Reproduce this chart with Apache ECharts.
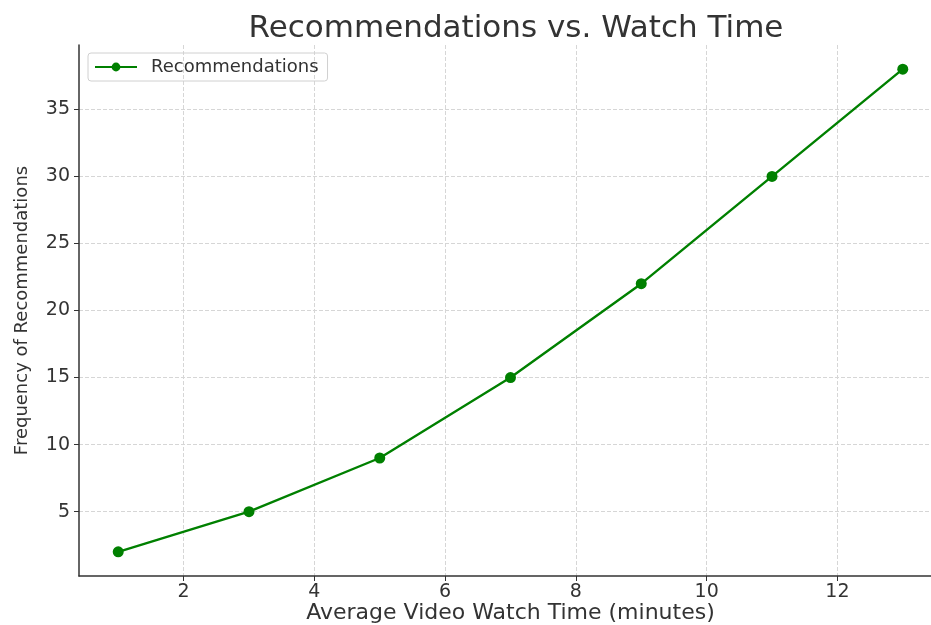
<!DOCTYPE html>
<html>
<head>
<meta charset="utf-8">
<script src="https://cdn.jsdelivr.net/npm/echarts@6/dist/echarts.min.js"></script>
<style>
	html, body { margin: 0; padding: 0; background: #fff; }
	#main { width: 931px; height: 625px; }
</style>
</head>
<body>
<div id="main"></div>
<script>
// 数据
const watchTime = [1, 3, 5, 7, 9, 11, 13];
const recommendations = [2, 5, 9, 15, 22, 30, 38];
const xTicks = [2, 4, 6, 8, 10, 12];
const yTicks = [5, 10, 15, 20, 25, 30, 35];

(function () {
	let myChart = echarts.init(document.getElementById('main'))
	const font = 'DejaVu Sans'
	const option = {
		animation: false,
		title: {
			text: 'Recommendations vs. Watch Time',
			left: 511,
			textAlign: 'center',
			top: 8,
			textStyle: {
				fontFamily: font,
				fontSize: 31,
				fontWeight: 'normal',
				color: '#333'
			}
		},
		legend: {
			left: 88,
			top: 53,
			padding: [5, 9, 5, 6],
			borderColor: '#d0d0d0',
			borderWidth: 1,
			borderRadius: 3,
			itemWidth: 42,
			itemHeight: 11,
			textStyle: {
				fontFamily: font,
				fontSize: 18,
				color: '#333',
				padding: [0, 0, 0, 9]
			}
		},
		grid: {
			left: 79,
			right: -11,
			top: 45,
			bottom: 49,
			outerBoundsMode: 'none'
		},
		xAxis: {
			type: 'value',
			min: 0.4,
			max: 13.6,
			name: 'Average Video Watch Time (minutes)',
			nameLocation: 'middle',
			nameGap: 26,
			nameMoveOverlap: false,
			nameTextStyle: {
				fontFamily: font,
				fontSize: 22,
				color: '#333'
			},
			axisLine: { lineStyle: { color: '#333', width: 1.5 } },
			axisTick: {
				customValues: xTicks,
				length: 5,
				lineStyle: { color: '#333' }
			},
			axisLabel: {
				customValues: xTicks,
				fontFamily: font,
				fontSize: 19,
				color: '#333',
				margin: 7
			},
			splitLine: {
				show: true,
				lineStyle: { color: '#d6d6d6', type: 'dashed' }
			}
		},
		yAxis: {
			type: 'value',
			min: 0.2,
			max: 39.8,
			name: 'Frequency of Recommendations',
			nameLocation: 'middle',
			nameGap: 48,
			nameMoveOverlap: false,
			nameTextStyle: {
				fontFamily: font,
				fontSize: 18,
				color: '#333'
			},
			axisLine: { show: true, lineStyle: { color: '#333', width: 1.5 } },
			axisTick: {
				show: true,
				customValues: yTicks,
				length: 5,
				lineStyle: { color: '#333' }
			},
			axisLabel: {
				customValues: yTicks,
				fontFamily: font,
				fontSize: 19,
				color: '#333',
				margin: 9
			},
			splitLine: {
				show: true,
				lineStyle: { color: '#d6d6d6', type: 'dashed' }
			}
		},
		series: [
			{
				name: 'Recommendations',
				type: 'line',
				data: watchTime.map((x, i) => [x, recommendations[i]]),
				symbol: 'circle',
				symbolSize: 11,
				lineStyle: { color: '#008000', width: 2.4 },
				itemStyle: { color: '#008000' }
			}
		]
	}
	myChart.setOption(option)
})();
</script>
</body>
</html>
